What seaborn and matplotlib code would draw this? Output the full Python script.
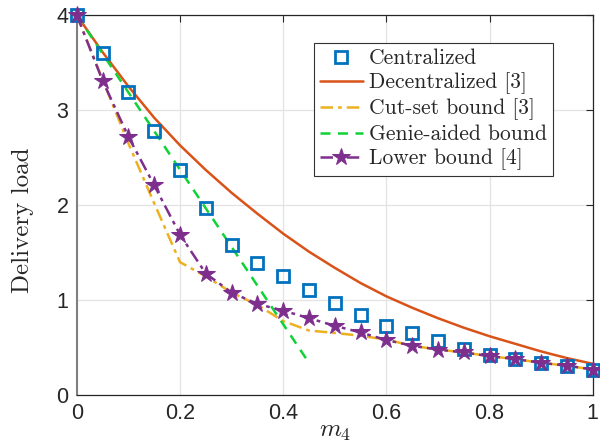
import numpy as np
import pandas as pd
import matplotlib
matplotlib.use('Agg')
import matplotlib.pyplot as plt
import seaborn as sns

# values
m4 = [0.0, 0.05, 0.1, 0.15, 0.2, 0.25, 0.3, 0.35, 0.4, 0.45, 0.5,
      0.55, 0.6, 0.65, 0.7, 0.75, 0.8, 0.85, 0.9, 0.95, 1.0]
centralized = [4.0, 3.60, 3.19, 2.78, 2.37, 1.965, 1.58, 1.39, 1.25, 1.11, 0.97,
               0.84, 0.73, 0.65, 0.57, 0.49, 0.42, 0.38, 0.34, 0.31, 0.27]
decentralized = [4.0, 3.61, 3.25, 2.92, 2.63, 2.37, 2.13, 1.91, 1.70, 1.51, 1.34,
                 1.18, 1.04, 0.92, 0.81, 0.71, 0.62, 0.54, 0.46, 0.39, 0.33]
cutset = [4.0, 3.32, 2.65, 2.02, 1.40, 1.25, 1.08, 0.95, 0.78, 0.68, 0.655,
          0.625, 0.585, 0.52, 0.48, 0.45, 0.41, 0.38, 0.34, 0.31, 0.27]
lower = [4.0, 3.31, 2.72, 2.21, 1.69, 1.28, 1.08, 0.96, 0.89, 0.81, 0.73,
         0.66, 0.58, 0.52, 0.48, 0.45, 0.41, 0.38, 0.34, 0.31, 0.27]
genie_x = [0.0, 0.45]
genie = [4.0, 0.34]

labels = ['Centralized', 'Decentralized [3]', 'Cut-set bound [3]',
          'Genie-aided bound', 'Lower bound [4]']
xtick_labels = ['0', '0.2', '0.4', '0.6', '0.8', '1']

df = pd.DataFrame({'m4': m4, 'cent': centralized, 'dec': decentralized,
                   'cut': cutset, 'low': lower})
df_genie = pd.DataFrame({'m4': genie_x, 'genie': genie})

sns.set_style('white')
plt.rcParams['mathtext.fontset'] = 'cm'

fig, ax = plt.subplots(figsize=(6.0, 4.45), dpi=100)
fig.subplots_adjust(left=0.128, right=0.988, top=0.966, bottom=0.112)

blue = '#0072BD'
orange = '#D95319'
yellow = '#EDB120'
green = '#0FD236'
purple = '#7E2F8E'

sns.lineplot(data=df, x='m4', y='cent', ax=ax, color=blue, linestyle='none',
             marker='s', markersize=9, markerfacecolor='none', markeredgecolor=blue,
             markeredgewidth=2, label=labels[0], clip_on=False, zorder=5)
sns.lineplot(data=df, x='m4', y='dec', ax=ax, color=orange, linewidth=1.8,
             label=labels[1], zorder=3)
sns.lineplot(data=df, x='m4', y='cut', ax=ax, color=yellow, linewidth=1.8,
             label=labels[2], zorder=3)
sns.lineplot(data=df_genie, x='m4', y='genie', ax=ax, color=green, linewidth=1.8,
             label=labels[3], zorder=4)
sns.lineplot(data=df, x='m4', y='low', ax=ax, color=purple, linewidth=1.8,
             marker='*', markersize=13, markeredgecolor=purple, markerfacecolor=purple,
             label=labels[4], clip_on=False, zorder=6)

lines = ax.get_lines()
lines[2].set_dashes([5, 2, 1.5, 2])
lines[3].set_dashes([4, 3])
lines[4].set_dashes([5, 2, 1.5, 2])

ax.set_xlim(0, 1)
ax.set_ylim(0, 4)
ax.set_xticks([0, 0.2, 0.4, 0.6, 0.8, 1.0])
ax.set_xticklabels(xtick_labels)
ax.set_yticks([0, 1, 2, 3, 4])
ax.set_yticklabels(['0', '1', '2', '3', '4'])
for lab in ax.get_xticklabels() + ax.get_yticklabels():
    lab.set_fontfamily('Liberation Sans')
    lab.set_fontsize(15.5)
    lab.set_color('#262626')

ax.grid(True, color='#e3e3e3', linewidth=0.9)
ax.set_axisbelow(True)
ax.tick_params(direction='in', top=True, right=True, length=5, width=0.8,
               color='#262626', pad=6)
for s in ax.spines.values():
    s.set_color('#262626')
    s.set_linewidth(0.9)
ax.spines['left'].set_color('#808080')
ax.spines['left'].set_linewidth(1.5)

ax.set_xlabel(r'$m_4$', fontsize=18, labelpad=-4)
ax.set_ylabel('Delivery load', family='cmr10', fontsize=18)
ax.yaxis.set_label_coords(-0.082, 0.46)

leg = ax.legend(loc='upper right', bbox_to_anchor=(0.922, 0.926),
                prop={'family': 'cmr10', 'size': 15.5}, frameon=True,
                fancybox=False, framealpha=1, edgecolor='#333333',
                handlelength=2.0, handletextpad=0.3, borderpad=0.25,
                labelspacing=0.2, borderaxespad=0)
leg.get_frame().set_linewidth(0.8)

plt.savefig('out.png', dpi=100)
